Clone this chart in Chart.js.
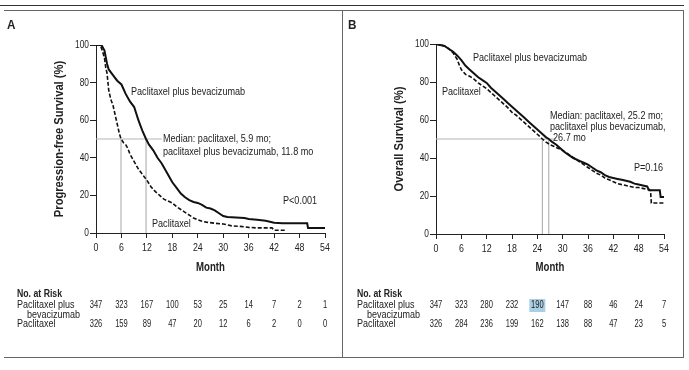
<!DOCTYPE html>
<html>
<head>
<meta charset="utf-8">
<script src="https://cdn.jsdelivr.net/npm/chart.js@4.4.1/dist/chart.umd.min.js"></script>
<style>
  html, body { margin: 0; padding: 0; background: #fff; }
  #page { position: relative; width: 689px; height: 370px; overflow: hidden; }
  canvas { position: absolute; left: 0; top: 0; }
  .rule { position: absolute; background: #666; }
</style>
</head>
<body>
<div id="page">
  <div class="rule" style="left:0;top:5px;width:684px;height:1px;background:#333"></div>
  <div class="rule" style="left:4px;top:10px;width:680px;height:1px"></div>
  <div class="rule" style="left:683px;top:10px;width:1px;height:348px"></div>
  <div class="rule" style="left:342px;top:10px;width:1px;height:348px"></div>
  <div class="rule" style="left:4px;top:357px;width:680px;height:1px"></div>
  <canvas id="chartA" width="689" height="370"></canvas>
  <canvas id="chartB" width="689" height="370"></canvas>
</div>
<script>
// Month ticks shared by both panels and the at-risk tables
const months = [0, 6, 12, 18, 24, 30, 36, 42, 48, 54];
const yTicks = [0, 20, 40, 60, 80, 100];

// Panel A: progression-free survival (month, %)
const pfsBev = [[0,100],[1.3,100],[2,97],[2.6,90],[3,87],[4,84],[5,81],[6,79],[7,74],[8,70],[9,67],[10,60],
  [10.5,57],[11,54],[11.8,50],[12.5,47],[13.5,44],[14.5,40],[15.5,37],[16.5,33],[17.5,29],[18,27],[19,24],
  [20,21],[21,19],[22,17.5],[23,16.5],[24,16],[25,15],[26,13.5],[27,13],[28,12],[29,10.5],[30,9],[31,8.5],
  [33,8.3],[35,8],[36,7.5],[38,7],[40,6.5],[42,5.5],[44,5.2],[46,5.2],[49.8,5.2],[50,2.7],[54,2.7]];
const pfsPac = [[0,100],[1,100],[1.5,97],[2,93],[2.3,88],[2.6,85],[3,76],[3.5,71],[4,68],[4.5,63],[5,58],
  [5.5,53],[5.9,50],[6.5,48],[7,47],[7.5,45],[8,42],[9,38],[10,34],[11,31],[12,28],[13,24.5],[14,22],
  [15,20],[16,18],[17,17],[18,16],[19,14],[20,12.5],[21,11],[22,9.5],[23,8],[24,7],[25,6.2],[26,5.8],
  [28,5.2],[30,4.8],[32,3.8],[34,3.5],[36,3],[38,2.7],[41.5,2.7],[42,1.5],[44.6,1.5]];
const pfsMedians = [5.9, 11.8];
const pfsRiskBev = [347, 323, 167, 100, 53, 25, 14, 7, 2, 1];
const pfsRiskPac = [326, 159, 89, 47, 20, 12, 6, 2, 0, 0];

// Panel B: overall survival (month, %)
const osBev = [[0,100],[1,99.5],[2,99],[3,97.5],[4,96],[5,94],[6,91.5],[7,88.5],[8,86.5],[9,84.5],[10,82.5],
  [11,81],[12,79.5],[13,77],[14,75],[15,73],[16,71],[17,69],[18,67],[19,65],[20,63],[21,61],[22,59],[23,57],
  [24,55],[25,53],[26,51],[26.7,50],[27.5,48.5],[28.5,47],[29.5,45],[30.5,43],[31.5,41.5],[32.5,40],
  [34,38.5],[35,37.5],[36,36.5],[37,35],[38,33.5],[39,32.5],[40,31],[41,30],[42,29.5],[43,29],[44,28.5],
  [45,28],[46,27.5],[47,26.5],[48,26],[49,25.5],[50,25],[50.5,23],[53,23],[53.2,19.5],[54,19.5]];
const osPac = [[0,100],[1,99.5],[2,99],[3,97.5],[4,95.5],[5,92],[5.5,89],[6,86.5],[7,84],[8,83],[9,81.5],
  [10,79.5],[11,78],[12,76.5],[13,74.5],[14,72.5],[15,70.5],[16,68.5],[17,66.5],[18,64],[19,62.5],[20,60.5],
  [21,58.5],[22,56.5],[23,54.5],[24,52.5],[25.2,50],[26,48.5],[27,47],[28,46],[29,45],[30,44],[31,42.5],
  [32,41],[33,39.5],[34,38],[35,36.5],[36,35],[37,33.5],[38,32],[39,31],[40,29.5],[41,28.5],[42,27.5],
  [43,26.5],[44,26],[45,25.5],[46,25],[47,24.5],[48,24.5],[49,24],[50,23.5],[50.8,23],[51,16.3],[54,16.3]];
const osMedians = [25.2, 26.7];
const osRiskBev = [347, 323, 280, 232, 190, 147, 88, 46, 24, 7];
const osRiskPac = [326, 284, 236, 199, 162, 138, 88, 47, 23, 5];

// no condensed face is installed, so text is squeezed horizontally
const FONT = '"Liberation Sans", Arial, sans-serif';
const INK = '#222';

function pts(arr) {
  return arr.map(([x, y]) => ({ x, y }));
}

function squeezed(ctx, s, px, py, size, sx, opt) {
  opt = opt || {};
  ctx.save();
  ctx.font = (opt.bold ? 'bold ' : '') + size + 'px ' + FONT;
  ctx.textAlign = opt.align || 'left';
  ctx.textBaseline = 'middle';
  ctx.fillStyle = opt.color || INK;
  ctx.translate(px, py);
  if (opt.rotate) ctx.rotate(opt.rotate);
  ctx.scale(sx, 1);
  ctx.fillText(s, 0, 0);
  ctx.restore();
}

// tick labels, titles, notes and the at-risk table, placed from the chart's scales
const panelText = {
  id: 'panelText',
  afterDraw(chart, args, opts) {
    const { ctx, chartArea: a, scales: { x, y } } = chart;

    x.ticks.forEach(t => squeezed(ctx, String(t.value), x.getPixelForValue(t.value), a.bottom + 14.5, 11, 0.8, { align: 'center' }));
    y.ticks.forEach(t => squeezed(ctx, String(t.value), a.left - 7, y.getPixelForValue(t.value), 11, 0.76, { align: 'right' }));

    squeezed(ctx, opts.letter, opts.letterX, 25, 13, 0.9, { bold: true });
    squeezed(ctx, 'Month', (a.left + a.right) / 2, 268, 12, 0.8, { bold: true, align: 'center' });
    squeezed(ctx, opts.yTitle, a.left - 36, (a.top + a.bottom) / 2, 12, 0.93, { bold: true, align: 'center', rotate: -Math.PI / 2 });

    opts.notes.forEach(n => squeezed(ctx, n[0], n[1], y.getPixelForValue(n[2]), 11.5, 0.79));
    const mx = x.getPixelForValue(opts.medianAt[0]);
    const my = y.getPixelForValue(opts.medianAt[1]);
    opts.medianNote.forEach((line, i) => squeezed(ctx, line, mx + (i === 2 ? 3 : 0), my + i * opts.noteLeading, 11.5, 0.79));

    // at-risk table
    const lx = a.left - 79;
    squeezed(ctx, 'No. at Risk', lx, 294, 10.5, 0.83, { bold: true });
    squeezed(ctx, 'Paclitaxel plus', lx, 305.5, 10, 0.9);
    squeezed(ctx, 'bevacizumab', lx + 10, 315, 10, 0.9);
    squeezed(ctx, 'Paclitaxel', lx, 324.5, 10, 0.9);
    if (opts.highlight != null) {
      const hx = x.getPixelForValue(months[opts.highlight]);
      ctx.fillStyle = '#a9cfe4';
      ctx.fillRect(hx - 8, 299, 16, 13);
    }
    months.forEach((m, i) => {
      const px = x.getPixelForValue(m);
      squeezed(ctx, String(opts.riskBev[i]), px, 305.5, 10.5, 0.72, { align: 'center' });
      squeezed(ctx, String(opts.riskPac[i]), px, 324.5, 10.5, 0.72, { align: 'center' });
    });
  }
};

function makeChart(id, cfg) {
  const medianSets = [
    { data: [{ x: 0, y: 50 }, { x: cfg.medianLineEnd, y: 50 }] },
    { data: [{ x: cfg.medians[0], y: 50 }, { x: cfg.medians[0], y: 0 }] },
    { data: [{ x: cfg.medians[1], y: 50 }, { x: cfg.medians[1], y: 0 }] }
  ].map(d => Object.assign(d, { borderColor: '#b5b5b5', borderWidth: 1.2, pointRadius: 0, fill: false }));

  return new Chart(document.getElementById(id), {
    type: 'line',
    data: {
      datasets: [
        { data: pts(cfg.bev), borderColor: '#111', borderWidth: 2, pointRadius: 0, fill: false, tension: 0 },
        { data: pts(cfg.pac), borderColor: '#111', borderWidth: 1.6, borderDash: [4, 2], pointRadius: 0, fill: false, tension: 0 }
      ].concat(medianSets)
    },
    options: {
      responsive: false,
      animation: false,
      events: [],
      layout: { padding: cfg.padding },
      plugins: {
        legend: { display: false },
        tooltip: { enabled: false },
        panelText: cfg.text
      },
      scales: {
        x: {
          type: 'linear', min: 0, max: 54,
          afterBuildTicks: s => { s.ticks = months.map(v => ({ value: v })); },
          ticks: { display: false },
          grid: { drawOnChartArea: false, drawTicks: true, tickLength: 5, color: INK },
          border: { color: INK, width: 1 },
          afterFit: s => { s.height = 5; }
        },
        y: {
          type: 'linear', min: 0, max: 100,
          afterBuildTicks: s => { s.ticks = yTicks.map(v => ({ value: v })); },
          ticks: { display: false },
          grid: { drawOnChartArea: false, drawTicks: true, tickLength: 6, color: INK },
          border: { color: INK, width: 1 },
          afterFit: s => { s.width = 6; }
        }
      }
    },
    plugins: [panelText]
  });
}

makeChart('chartA', {
  bev: pfsBev, pac: pfsPac, medians: pfsMedians, medianLineEnd: 15.5,
  padding: { left: 90, right: 364, top: 45, bottom: 132 },
  text: {
    letter: 'A', letterX: 7, yTitle: 'Progression-free Survival (%)',
    notes: [['Paclitaxel plus bevacizumab', 131, 75], ['P<0.001', 283, 17], ['Paclitaxel', 152, 5]],
    medianNote: ['Median: paclitaxel, 5.9 mo;', 'paclitaxel plus bevacizumab, 11.8 mo'],
    medianAt: [15.8, 50], noteLeading: 12.5,
    riskBev: pfsRiskBev, riskPac: pfsRiskPac, highlight: null
  }
});

makeChart('chartB', {
  bev: osBev, pac: osPac, medians: osMedians, medianLineEnd: 28.5,
  padding: { left: 430, right: 25, top: 44, bottom: 131 },
  text: {
    letter: 'B', letterX: 348, yTitle: 'Overall Survival (%)',
    notes: [['Paclitaxel plus bevacizumab', 473, 92.8], ['Paclitaxel', 442, 74.8], ['P=0.16', 634, 35]],
    medianNote: ['Median: paclitaxel, 25.2 mo;', 'paclitaxel plus bevacizumab,', '26.7 mo'],
    medianAt: [27.0, 62.3], noteLeading: 11,
    riskBev: osRiskBev, riskPac: osRiskPac, highlight: 4
  }
});
</script>
</body>
</html>
